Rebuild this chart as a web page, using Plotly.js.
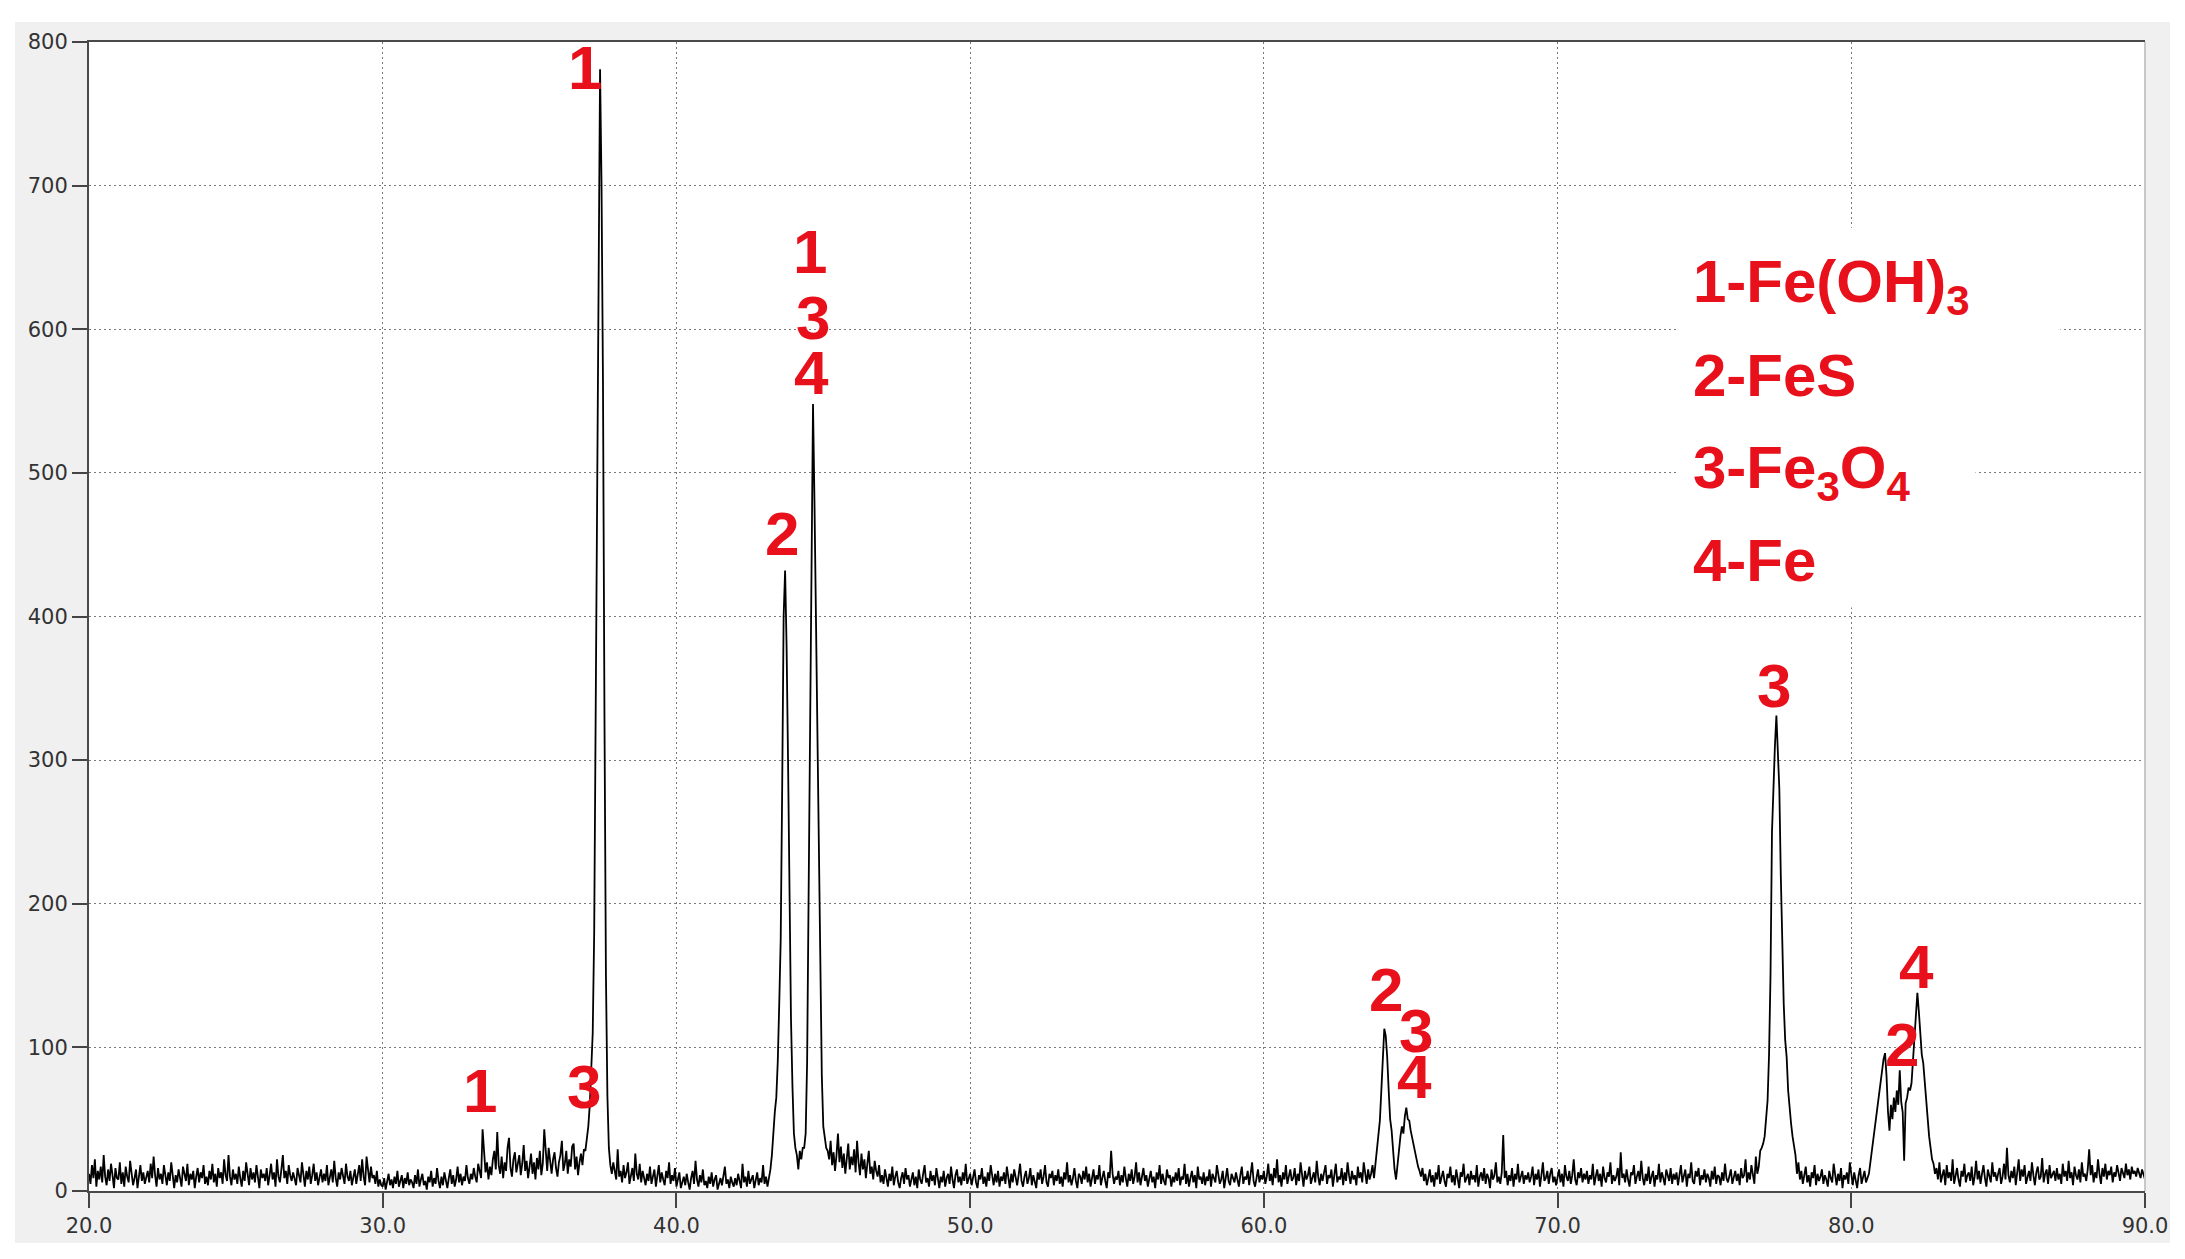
<!DOCTYPE html>
<html><head><meta charset="utf-8">
<script src="https://cdn.plot.ly/plotly-3.0.1.min.js"></script>
<style>
html,body{margin:0;padding:0;background:#ffffff;width:2185px;height:1259px;overflow:hidden;}
#chart{position:absolute;left:15px;top:22px;width:2155px;height:1221px;}
</style></head><body><div id="chart"></div>
<script>
// 2-theta grid of the scan
const thetaStart = 20.0;
const thetaStep = 0.05;

// Intensity (counts), 0.05 deg steps
const counts20to30 = [
12,5,18,9,22,3,14,8,17,6,25,10,4,15,7,19,11,2,16,9,
8,20,5,13,3,17,10,6,21,12,4,9,15,2,11,18,7,13,5,10,
14,6,19,9,24,11,3,16,8,12,5,18,10,4,13,7,20,9,2,11,
6,15,9,3,17,11,7,19,4,12,8,14,2,10,16,6,13,9,18,5,
10,4,14,8,19,6,12,3,16,9,13,5,22,11,7,25,10,4,15,8,
12,5,17,9,3,14,7,20,11,4,16,8,13,6,18,10,2,15,9,12,
7,16,4,11,19,8,13,3,22,10,6,15,25,9,14,5,18,11,7,13,
9,4,16,10,6,20,12,3,14,8,17,5,11,19,7,13,4,10,15,6,
12,7,18,4,10,15,6,21,9,3,13,8,16,11,5,19,10,7,14,4,
9,15,5,12,18,7,22,10,4,24,13,6,17,9,11,5,14,3,8,4];
const counts30to40 = [
3,9,1,6,12,4,8,2,10,5,14,3,7,11,2,9,5,13,4,8,
6,2,11,5,15,3,8,12,4,7,1,10,6,14,3,9,5,16,7,2,
10,4,13,6,2,9,15,5,11,3,8,17,6,12,4,10,7,18,9,5,
12,8,16,10,6,19,14,9,43,25,13,20,8,17,11,22,28,15,41,18,
12,24,9,20,14,30,37,16,10,22,27,13,18,25,11,19,32,14,21,9,
17,26,12,20,8,23,15,28,11,19,43,24,14,30,18,12,22,27,16,10,
20,25,35,14,19,28,12,22,17,31,33,15,24,11,20,26,18,29,28,35,
45,60,80,110,180,330,520,681,781,700,560,330,150,66,30,18,12,20,15,8,
29,10,14,6,18,9,13,20,5,11,16,7,26,12,8,19,6,14,10,4,
12,7,17,5,10,15,3,9,18,6,13,8,4,14,9,20,5,11,7,16];
const counts40to50 = [
3,8,13,2,7,10,4,12,6,1,9,14,5,21,8,3,11,6,15,4,
7,2,10,5,13,3,8,11,1,6,9,4,12,17,5,8,2,10,6,3,
9,4,12,7,2,19,6,10,3,14,5,8,11,2,7,13,4,9,6,18,
5,10,3,8,15,25,44,55,65,90,130,175,280,400,432,380,300,200,120,73,
40,30,25,15,28,22,30,30,40,90,200,320,440,548,480,400,330,230,140,80,
45,37,30,28,22,35,18,27,14,25,40,20,31,16,26,12,22,33,15,24,
18,29,13,35,20,11,26,15,22,9,19,28,12,17,8,21,14,10,18,6,
11,5,15,8,3,12,7,17,4,10,14,6,2,9,13,5,16,8,11,3,
7,13,4,10,2,15,8,5,12,18,6,9,3,14,7,11,4,16,9,2,
10,6,14,3,9,12,5,17,8,2,11,15,6,10,4,13,7,19,5,8];
const counts50to60 = [
12,4,9,15,6,2,11,8,16,5,10,3,13,7,18,9,4,12,6,14,
3,10,7,13,5,17,9,2,12,6,15,8,4,11,19,7,3,10,14,5,
9,16,4,11,7,2,13,8,15,5,10,18,6,3,12,9,14,4,11,7,
15,5,10,3,13,8,20,6,11,4,9,16,7,2,12,10,5,14,8,17,
6,12,3,9,15,5,11,8,18,4,10,14,7,2,13,9,28,12,5,10,
8,14,4,11,6,17,9,3,12,7,15,5,10,20,6,13,4,9,16,7,
11,3,9,14,6,10,2,13,8,18,5,12,7,4,15,9,11,3,10,6,
13,7,16,4,10,8,19,5,12,3,9,14,6,11,2,17,8,10,5,13,
4,10,7,15,3,12,9,6,18,11,5,8,14,2,10,16,7,4,12,9,
6,13,9,3,11,17,5,10,8,14,4,12,20,7,3,9,15,6,11,8];
const counts60to70 = [
14,5,10,19,7,12,4,16,9,22,6,11,3,13,8,18,5,10,15,7,
9,16,4,12,7,20,10,3,14,8,11,17,5,9,13,6,21,10,4,12,
7,13,18,5,11,9,15,3,12,19,6,10,8,16,4,13,7,20,11,5,
14,8,11,4,17,9,13,6,20,10,5,15,8,12,18,9,18,28,38,49,
70,95,113,108,93,70,50,42,28,15,8,20,30,38,45,40,52,58,50,49,
42,37,30,26,22,17,14,10,16,7,12,4,9,15,6,11,3,13,8,18,
5,10,14,7,3,12,9,17,6,11,4,15,8,2,13,10,19,6,9,12,
4,14,8,11,6,18,3,10,13,7,16,5,12,9,2,15,8,11,20,6,
10,5,13,39,9,14,4,11,7,16,3,12,8,19,6,10,14,5,11,8,
13,6,10,17,4,12,8,15,3,11,20,7,9,14,5,12,16,6,10,4];
const counts70to80 = [
9,15,6,12,3,18,10,7,14,5,11,22,8,4,13,9,16,6,12,8,
14,5,11,8,19,4,10,15,7,12,3,17,9,6,13,10,20,5,11,7,
10,16,4,27,9,12,6,15,8,3,13,11,18,5,10,14,7,21,9,4,
12,7,17,5,10,14,3,11,8,19,6,13,9,4,15,10,7,16,5,12,
8,13,4,11,18,6,10,15,3,12,9,20,7,5,14,10,16,4,11,8,
15,6,12,9,3,14,8,17,5,11,10,4,13,7,19,9,6,12,15,5,
10,14,7,12,4,16,9,11,22,6,13,8,18,10,5,24,12,17,28,30,
33,38,48,63,95,150,250,290,310,331,310,280,220,170,130,105,93,70,55,47,
38,30,25,12,20,8,14,5,10,17,6,11,3,13,9,18,4,12,7,10,
15,5,11,8,3,14,9,6,19,10,4,12,7,16,2,11,8,13,5,20];
const counts80to90 = [
10,4,13,7,2,11,16,5,9,14,6,9,12,20,28,35,45,51,60,70,
75,85,92,96,80,55,42,60,50,65,55,70,60,84,62,55,21,61,65,72,
70,75,90,102,120,138,125,105,95,89,75,63,50,38,30,22,19,12,16,8,
20,6,11,15,4,18,9,13,7,22,5,12,16,8,3,14,10,19,6,11,
13,7,17,4,10,21,8,14,5,12,18,9,3,15,11,6,20,10,13,7,
12,16,5,10,19,8,30,11,6,14,9,17,4,12,22,7,15,10,18,5,
9,14,7,20,11,4,13,17,8,10,23,6,12,15,5,18,9,11,14,7,
16,8,12,5,19,10,14,7,21,9,13,4,17,11,8,15,6,20,10,12,
7,15,29,11,18,6,13,9,22,12,5,16,10,19,8,14,11,17,6,13,
10,18,12,7,16,13,9,19,11,15,8,17,12,14,10,16,13,9,15,12,
8];

// Axis ticks
const xTicks = [20, 30, 40, 50, 60, 70, 80, 90];
const xTickLabels = ['20.0','30.0','40.0','50.0','60.0','70.0','80.0','90.0'];
const yTicks = [0, 100, 200, 300, 400, 500, 600, 700, 800];

// Phase labels on the peaks
const peakLabels = ['1','3','1','2','1','3','4','2','3','4','3','2','4'];
// Legend entries
const legendLines = ['1-Fe(OH)<sub>3</sub>', '2-FeS', '3-Fe<sub>3</sub>O<sub>4</sub>', '4-Fe'];

const intensity = [].concat(counts20to30, counts30to40, counts40to50, counts50to60,
                            counts60to70, counts70to80, counts80to90);
const twoTheta = intensity.map((_, i) => +(thetaStart + i * thetaStep).toFixed(2));

const RED = '#e8101a';
// label anchor positions (layout)
const labelPos = [
  [36.87, 782], [36.86, 73], [33.30, 70], [43.59, 458],
  [44.56, 654], [44.64, 608], [44.61, 570],
  [64.16, 140], [65.17, 112], [65.14, 80],
  [77.36, 352], [81.72, 102], [82.23, 156]
];
const annotations = [];
peakLabels.forEach((t, i) => {
  annotations.push({
    text: '<b>' + t + '</b>', x: labelPos[i][0], y: labelPos[i][1],
    xref: 'x', yref: 'y', showarrow: false, xanchor: 'center', yanchor: 'middle',
    borderpad: 0,
    font: {family: 'Liberation Sans, Arial, sans-serif', size: 62, color: RED}
  });
});
const legendY = [657, 591.5, 528, 463];
legendLines.forEach((t, i) => {
  annotations.push({
    text: '<b>' + t + '</b>', x: 74.59, y: legendY[i],
    xref: 'x', yref: 'y', showarrow: false, xanchor: 'left', yanchor: 'top',
    borderpad: 0,
    font: {family: 'Liberation Sans, Arial, sans-serif', size: 60, color: RED}
  });
});

const trace = {
  x: twoTheta, y: intensity, type: 'scatter', mode: 'lines',
  line: {color: '#000000', width: 1.8}, hoverinfo: 'skip'
};

const axisCommon = {
  ticks: 'outside', ticklen: 15, tickwidth: 2, tickcolor: '#444444',
  showline: true, linecolor: '#4a4a4a', linewidth: 2,
  showgrid: true, gridcolor: '#7a7a7a', gridwidth: 1, griddash: '2px,3px',
  zeroline: false, fixedrange: true,
  tickfont: {family: 'DejaVu Sans, sans-serif', size: 21, color: '#333333'}
};

const layout = {
  width: 2155, height: 1221,
  margin: {l: 74, r: 25, t: 20, b: 52},
  paper_bgcolor: '#f0f0f0', plot_bgcolor: '#ffffff',
  showlegend: false,
  xaxis: Object.assign({}, axisCommon, {range: [20, 90], tickmode: 'array', tickvals: xTicks, ticktext: xTickLabels, mirror: true}),
  yaxis: Object.assign({}, axisCommon, {range: [0, 800], tickmode: 'array', tickvals: yTicks, ticktext: yTicks.map(String)}),
  shapes: [
    {type: 'line', xref: 'paper', yref: 'paper', x0: 1, x1: 1, y0: 0, y1: 1, line: {color: '#c8c8c8', width: 2}},
    {type: 'rect', xref: 'x', yref: 'y', x0: 74.11, x1: 87.12, y0: 550.3, y1: 670.6, fillcolor: '#ffffff', line: {width: 0}, layer: 'above'},
    {type: 'rect', xref: 'x', yref: 'y', x0: 74.11, x1: 84.23, y0: 406.3, y1: 550.3, fillcolor: '#ffffff', line: {width: 0}, layer: 'above'}
  ],
  annotations: annotations
};

Plotly.newPlot('chart', [trace], layout, {displayModeBar: false, staticPlot: true});
</script></body></html>
